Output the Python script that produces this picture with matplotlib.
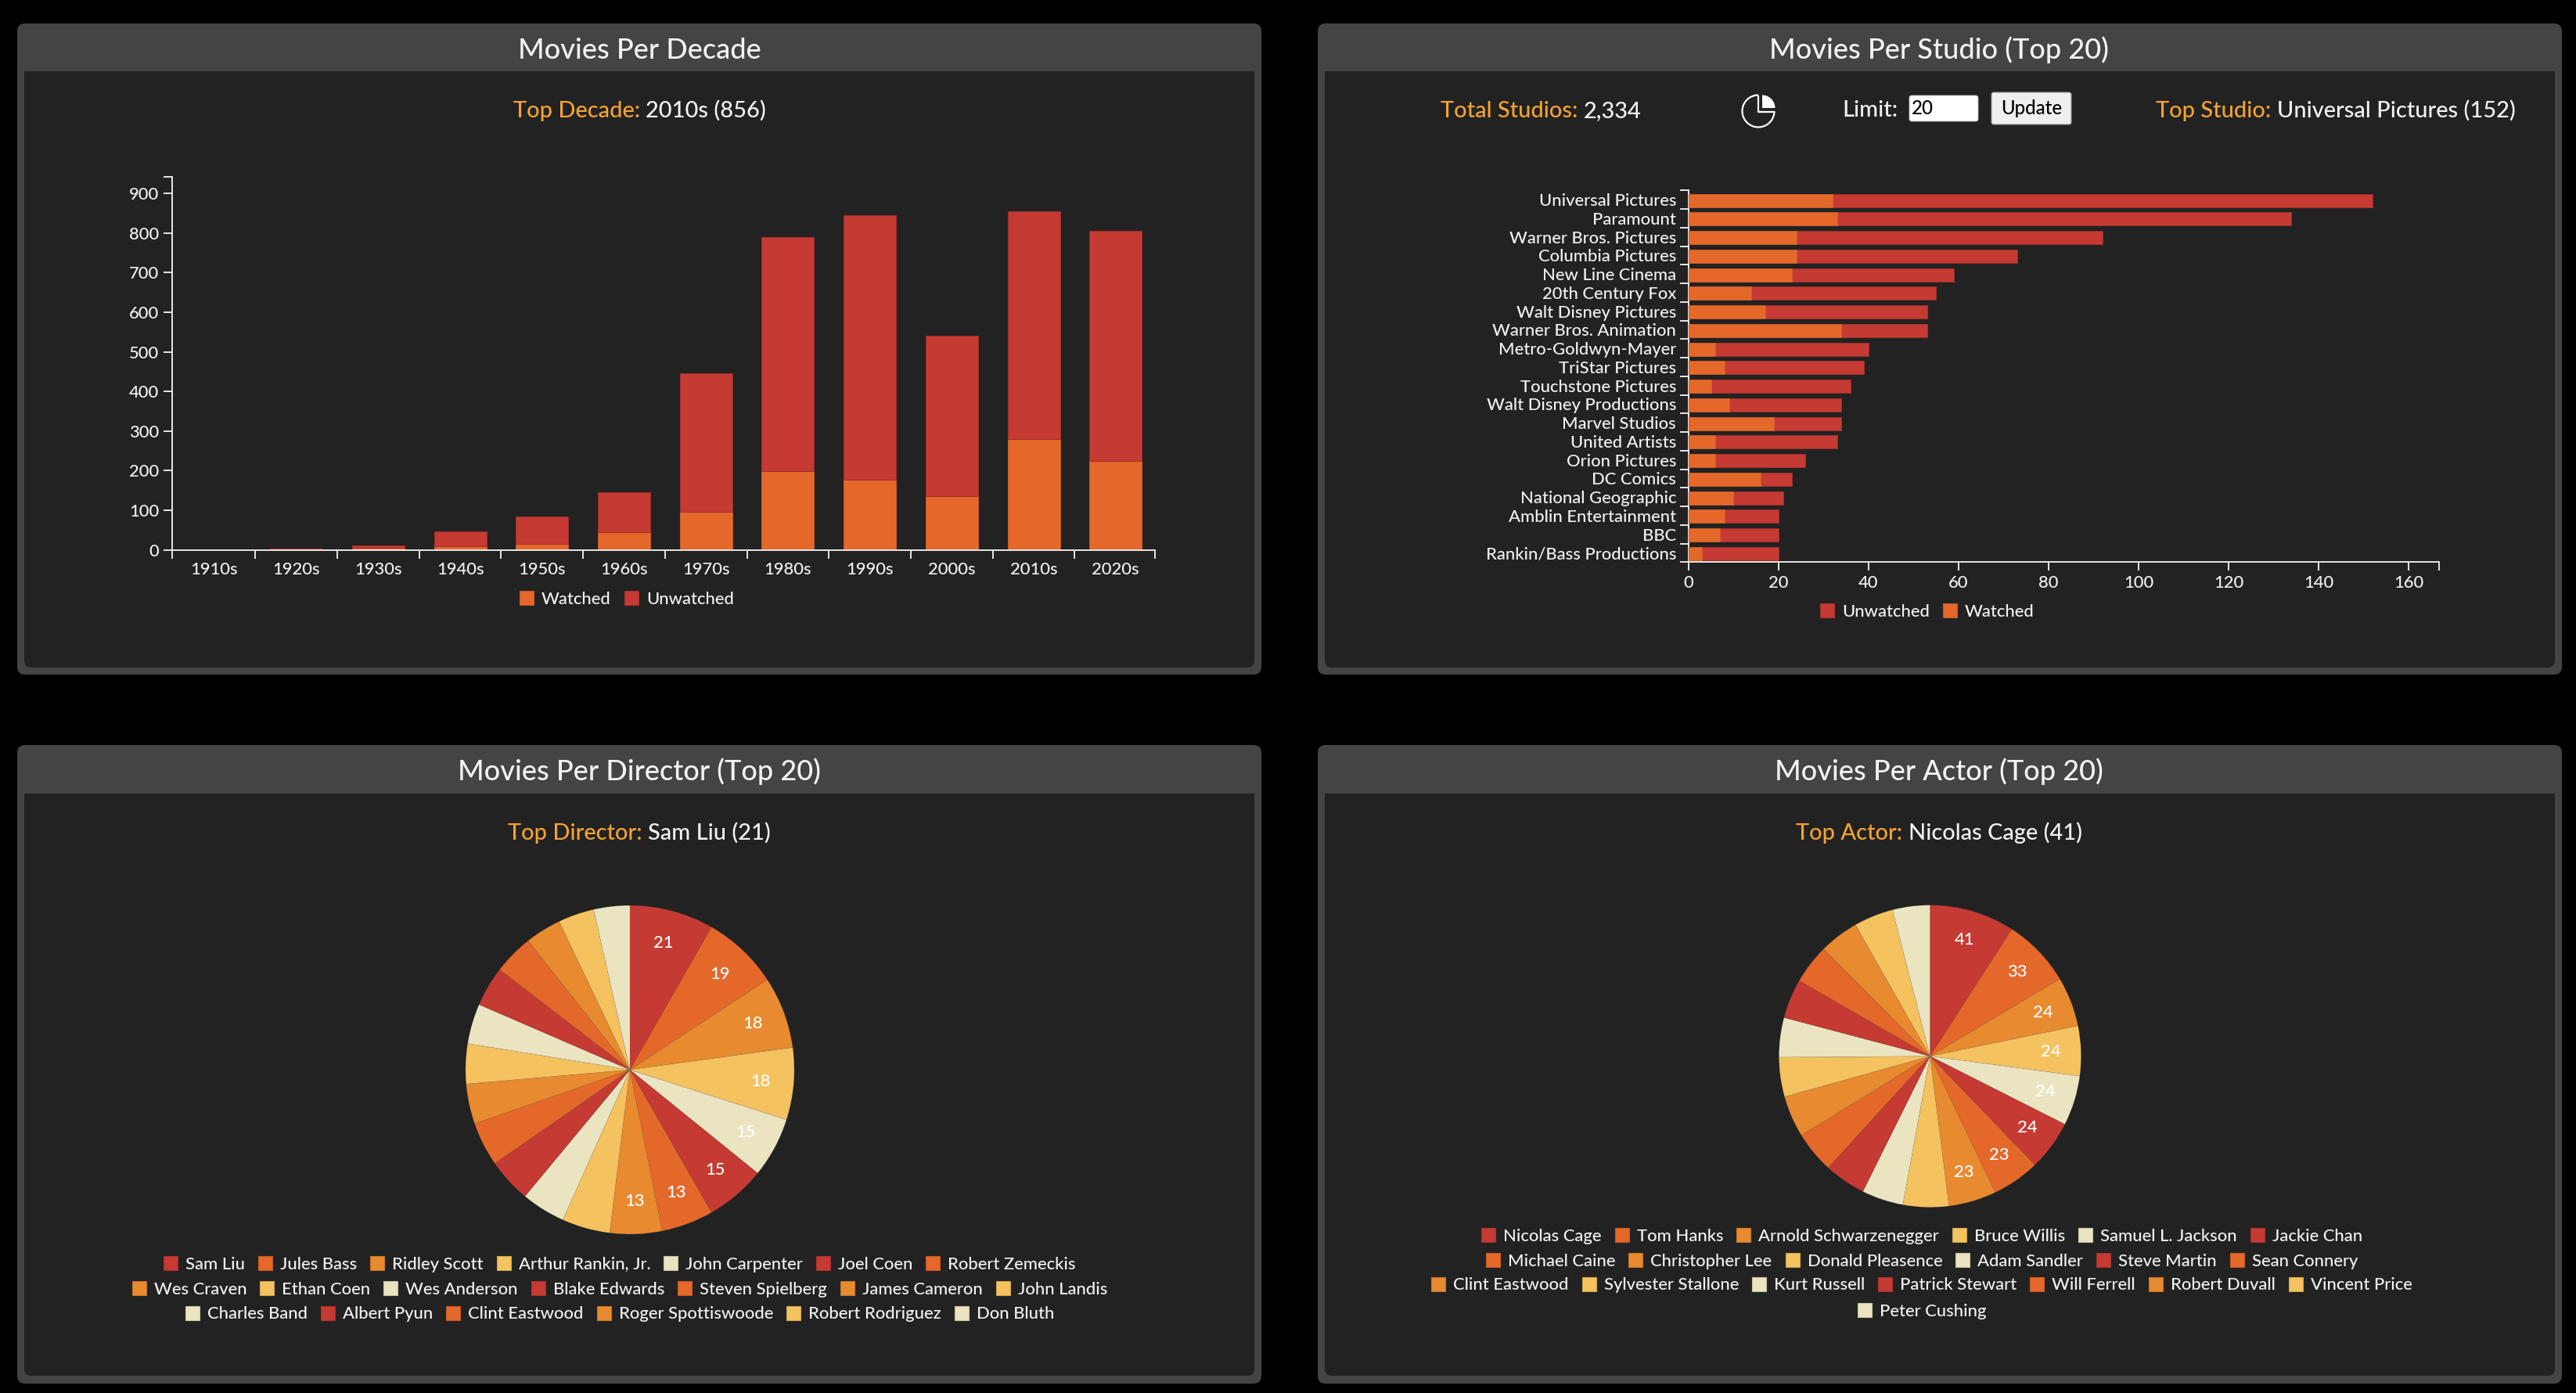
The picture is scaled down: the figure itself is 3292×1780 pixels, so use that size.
import matplotlib
matplotlib.use("Agg")
import matplotlib.pyplot as plt
from matplotlib.patches import FancyBboxPatch, Rectangle, Wedge, Arc
from matplotlib.colors import to_rgb

W, H = 3292, 1780
FONT = "Lato"
plt.rcParams["font.family"] = [FONT, "DejaVu Sans"]
plt.rcParams["font.weight"] = 500

# ---- data ----
decades = ["1910s", "1920s", "1930s", "1940s", "1950s", "1960s", "1970s", "1980s", "1990s", "2000s", "2010s", "2020s"]
decade_watched = [0, 2, 6, 9, 16, 45, 96, 199, 178, 136, 281, 224]
decade_unwatched = [2, 1, 5, 37, 68, 100, 350, 591, 667, 405, 575, 581]
decade_yticks = [0, 100, 200, 300, 400, 500, 600, 700, 800, 900]

studios = ["Universal Pictures", "Paramount", "Warner Bros. Pictures", "Columbia Pictures", "New Line Cinema",
           "20th Century Fox", "Walt Disney Pictures", "Warner Bros. Animation", "Metro-Goldwyn-Mayer",
           "TriStar Pictures", "Touchstone Pictures", "Walt Disney Productions", "Marvel Studios", "United Artists",
           "Orion Pictures", "DC Comics", "National Geographic", "Amblin Entertainment", "BBC", "Rankin/Bass Productions"]
studio_watched = [32, 33, 24, 24, 23, 14, 17, 34, 6, 8, 5, 9, 19, 6, 6, 16, 10, 8, 7, 3]
studio_unwatched = [120, 101, 68, 49, 36, 41, 36, 19, 34, 31, 31, 25, 15, 27, 20, 7, 11, 12, 13, 17]
studio_xticks = [0, 20, 40, 60, 80, 100, 120, 140, 160]

directors = ["Sam Liu", "Jules Bass", "Ridley Scott", "Arthur Rankin, Jr.", "John Carpenter", "Joel Coen", "Robert Zemeckis",
             "Wes Craven", "Ethan Coen", "Wes Anderson", "Blake Edwards", "Steven Spielberg", "James Cameron", "John Landis",
             "Charles Band", "Albert Pyun", "Clint Eastwood", "Roger Spottiswoode", "Robert Rodriguez", "Don Bluth"]
director_counts = [21, 19, 18, 18, 15, 15, 13, 13, 12, 11, 11, 11, 10, 10, 10, 10, 10, 9, 9, 9]
director_rows = [7, 7, 6]

actors = ["Nicolas Cage", "Tom Hanks", "Arnold Schwarzenegger", "Bruce Willis", "Samuel L. Jackson", "Jackie Chan",
          "Michael Caine", "Christopher Lee", "Donald Pleasence", "Adam Sandler", "Steve Martin", "Sean Connery",
          "Clint Eastwood", "Sylvester Stallone", "Kurt Russell", "Patrick Stewart", "Will Ferrell", "Robert Duvall", "Vincent Price",
          "Peter Cushing"]
actor_counts = [41, 33, 24, 24, 24, 24, 23, 23, 22, 20, 20, 20, 20, 19, 19, 19, 19, 19, 19, 18]
actor_rows = [6, 6, 7, 1]

# ---- style ----
RED, ORANGE, AMBER, YELLOW, CREAM = "#c53a33", "#e5682b", "#e88a30", "#f4c25f", "#ebe4c1"
CYCLE = [RED, ORANGE, AMBER, YELLOW, CREAM]
ACCENT = "#f5a332"
TXT = "#f2f2f2"
AXC = "#e6e6e6"
PANEL = "#444444"
INNER = "#222222"
FS_TITLE, FS_SUB, FS_SMALL = 26.0, 20.9, 15.8


def darker(c, f=0.85):
    return tuple(v * f for v in to_rgb(c))


fig = plt.figure(figsize=(W / 100, H / 100), dpi=100, facecolor="black")
bg = fig.add_axes([0, 0, 1, 1], zorder=0)
bg.set_xlim(0, W)
bg.set_ylim(H, 0)
bg.axis("off")
rend = fig.canvas.get_renderer()


def tw(s, size):
    t = bg.text(0, 0, s, fontsize=size)
    w = t.get_window_extent(rend).width
    t.remove()
    return w


def panel(x0, y0, x1, y1, head, ix0, ix1, ibot):
    bg.add_patch(FancyBboxPatch((x0, y0), x1 - x0, y1 - y0, boxstyle="round,pad=0,rounding_size=10", fc=PANEL, ec="none"))
    bg.add_patch(FancyBboxPatch((ix0, head), ix1 - ix0, ibot - head, boxstyle="round,pad=0,rounding_size=9", fc=INNER, ec="none"))
    bg.add_patch(Rectangle((ix0, head), ix1 - ix0, 30, fc=INNER, ec="none"))


def pair(cx, base, a, b, left=None):
    wa, wb = tw(a, FS_SUB), tw(b, FS_SUB)
    gap = 7
    x = cx - (wa + gap + wb) / 2 if left is None else left
    bg.text(x, base, a, color=ACCENT, fontsize=FS_SUB, va="baseline", ha="left")
    bg.text(x + wa + gap, base, b, color=TXT, fontsize=FS_SUB, va="baseline", ha="left")


def legend_row(cx, cy, names, cols):
    sw, g1, g2 = 18, 10, 17
    widths = [tw(n, FS_SMALL) for n in names]
    total = sum(widths) + len(names) * (sw + g1) + (len(names) - 1) * g2
    x = cx - total / 2
    for n, w, c in zip(names, widths, cols):
        bg.add_patch(Rectangle((x, cy - 9), sw, 18, fc=c, ec=darker(c), lw=0.8))
        bg.text(x + sw + g1, cy + 7.5, n, color=TXT, fontsize=FS_SMALL, va="baseline", ha="left")
        x += sw + g1 + w + g2


def px_axes(x0, y0, x1, y1):
    ax = fig.add_axes([x0 / W, 1 - y1 / H, (x1 - x0) / W, (y1 - y0) / H], zorder=1)
    ax.patch.set_alpha(0)
    return ax


def style_axis(ax):
    for s in ["top", "right"]:
        ax.spines[s].set_visible(False)
    for s in ["left", "bottom"]:
        ax.spines[s].set_color(AXC)
        ax.spines[s].set_linewidth(1.4)
    ax.tick_params(which="major", length=7.7, width=1.4, color=AXC, labelcolor=TXT, labelsize=FS_SMALL)
    ax.tick_params(which="minor", length=0, labelcolor=TXT, labelsize=FS_SMALL)


# ---- panels ----
panel(22, 30, 1612, 862, 91, 31, 1603, 853)
panel(1684, 30, 3274, 862, 91, 1693, 3265, 853)
panel(22, 952, 1612, 1768, 1014, 31, 1603, 1758)
panel(1684, 952, 3274, 1768, 1014, 1693, 3265, 1758)

for cx, by, t in [(817, 75, "Movies Per Decade"), (2478, 75, "Movies Per Studio (Top 20)"),
                  (817, 997, "Movies Per Director (Top 20)"), (2478, 997, "Movies Per Actor (Top 20)")]:
    bg.text(cx, by, t, color=TXT, fontsize=FS_TITLE, ha="center", va="baseline")

pair(817, 150, "Top Decade:", "2010s (856)")
pair(0, 150, "Total Studios:", "2,334", left=1841)
pair(2985, 150, "Top Studio:", "Universal Pictures (152)")
pair(817, 1073, "Top Director:", "Sam Liu (21)")
pair(2478, 1073, "Top Actor:", "Nicolas Cage (41)")

# pie icon
bg.add_patch(Arc((2247, 142), 41, 41, angle=0, theta1=0, theta2=270, color="white", lw=1.6))
bg.plot([2247, 2247, 2267.5], [121.5, 143, 143], color="white", lw=1.6, solid_capstyle="butt")
bg.add_patch(Wedge((2252, 138), 16.5, 270, 360, fc="white", ec="none"))

# limit control
bg.text(2354, 149, "Limit:", color=TXT, fontsize=FS_SUB, va="baseline", ha="left")
bg.add_patch(FancyBboxPatch((2440, 122), 88, 33, boxstyle="round,pad=0,rounding_size=3", fc="white", ec="#bbbbbb", lw=0.6))
bg.text(2443, 146, "20", color="black", fontsize=FS_SMALL + 1.5, va="baseline", ha="left")
bg.add_patch(FancyBboxPatch((2545, 118), 102, 41, boxstyle="round,pad=0,rounding_size=3", fc="#efefef", ec="#999999", lw=0.8))
bg.text(2596, 146, "Update", color="black", fontsize=FS_SMALL + 1.5, va="baseline", ha="center")

# ---- decade chart ----
ax = px_axes(220, 225.5, 1476, 702.7)
xs = list(range(len(decades)))
ax.bar(xs, decade_watched, width=0.64, color=ORANGE, edgecolor=darker(ORANGE, 0.92), lw=0.6, label="Watched")
ax.bar(xs, decade_unwatched, width=0.64, bottom=decade_watched, color=RED, edgecolor=darker(RED, 0.8), lw=0.7, label="Unwatched")
xlo, xhi = -0.516, 11.48
ymax = 943
ax.set_xlim(xlo, xhi)
ax.set_ylim(0, ymax)
ax.set_xticks([xlo] + [i - 0.5 for i in xs[1:]] + [xhi])
ax.set_xticklabels([])
ax.set_xticks(xs, decades, minor=True)
ax.set_yticks(decade_yticks + [ymax], [str(v) for v in decade_yticks] + [""])
style_axis(ax)
ax.tick_params(axis="x", which="minor", pad=11)
ax.tick_params(axis="y", which="major", pad=4.3)
legend_row(801, 764, ["Watched", "Unwatched"], [ORANGE, RED])

# ---- studio chart ----
ax = px_axes(2158, 243.3, 3117, 718.3)
ys = [i + 0.04 for i in range(len(studios))]
ax.barh(ys, studio_watched, height=0.72, color=ORANGE, edgecolor=darker(ORANGE, 0.92), lw=0.6, zorder=3)
ax.barh(ys, studio_unwatched, height=0.72, left=studio_watched, color=RED, edgecolor=darker(RED, 0.8), lw=0.7, zorder=2)
ax.set_ylim(19.5, -0.5)
ax.set_xlim(0, 166.8)
ax.set_yticks([i - 0.5 for i in range(len(studios) + 1)])
ax.set_yticklabels([])
ax.set_yticks(list(range(len(studios))), studios, minor=True)
ax.set_xticks(studio_xticks + [166.8], [str(v) for v in studio_xticks] + [""])
style_axis(ax)
ax.tick_params(axis="y", which="minor", pad=11.5)
ax.tick_params(axis="x", which="major", pad=4)
legend_row(2463, 780, ["Unwatched", "Watched"], [RED, ORANGE])


# ---- pies ----
def pie(cx, cy, r, counts, names, rows, row_ys, row_cx, shown=8):
    a = px_axes(cx - r, cy - r, cx + r, cy + r)
    cols = [CYCLE[i % 5] for i in range(len(counts))]
    idx = {"i": 0}

    def fmt(_):
        i = idx["i"]
        idx["i"] += 1
        return str(counts[i]) if i < shown else ""

    a.pie(counts, colors=cols, startangle=90, counterclock=False, radius=1,
          autopct=fmt, pctdistance=0.8, wedgeprops={"lw": 0.2, "ec": "#55555555"},
          textprops={"color": "white", "fontsize": FS_SMALL})
    a.set_xlim(-1, 1)
    a.set_ylim(-1, 1)
    a.set_aspect("equal")
    k = 0
    for n, y in zip(rows, row_ys):
        legend_row(row_cx, y, names[k:k + n], cols[k:k + n])
        k += n


pie(805, 1367, 210, director_counts, directors, director_rows, [1614, 1646, 1677.5], 792)
pie(2466.5, 1349.6, 193, actor_counts, actors, actor_rows, [1578, 1610, 1641, 1674], 2456)

fig.savefig("out.png", dpi=100, facecolor="black")
